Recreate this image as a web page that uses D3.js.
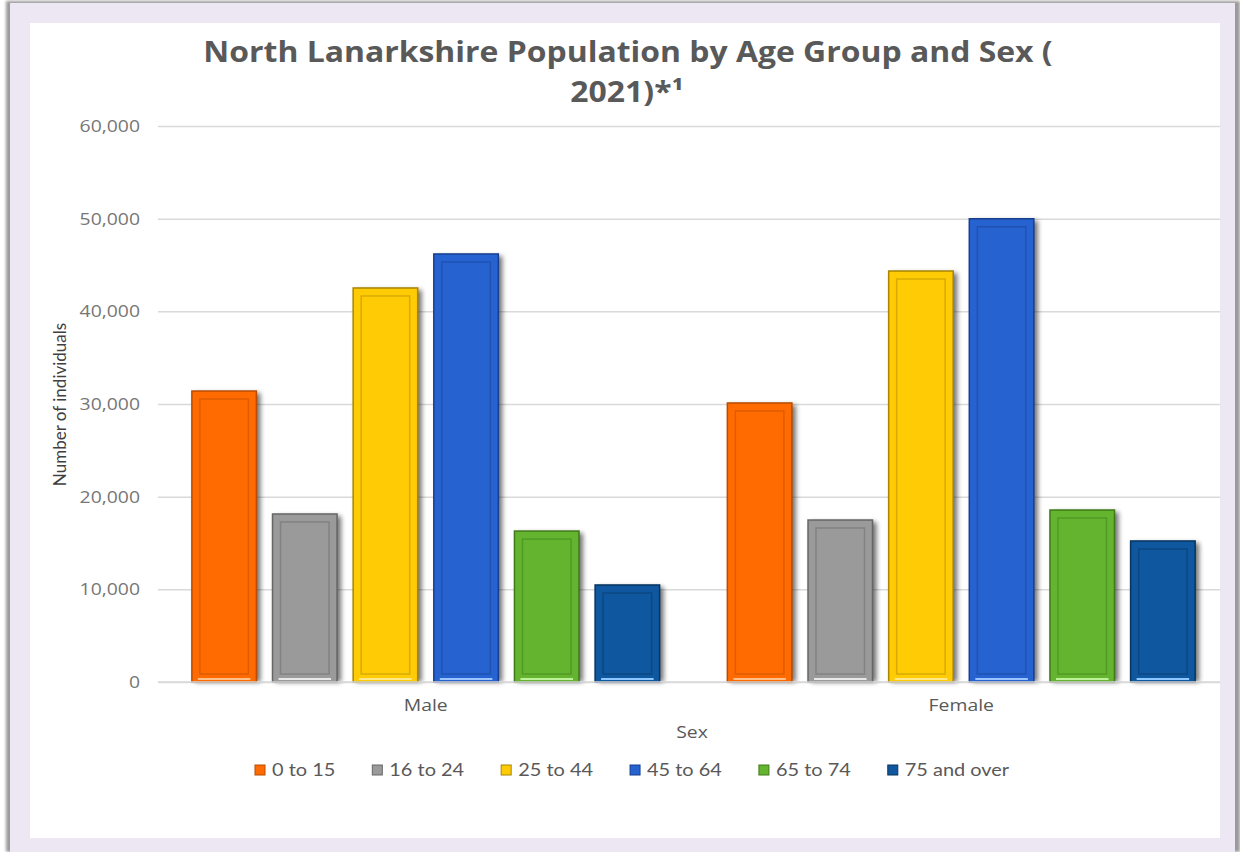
<!DOCTYPE html>
<html><head><meta charset="utf-8">
<script src="https://cdn.jsdelivr.net/npm/d3@7"></script>
<style>html,body{margin:0;padding:0;background:#fff;overflow:hidden}</style>
</head><body>
<svg id="c" width="1240" height="852"></svg>
<script>
const sexes = ["Male", "Female"];
const ageGroups = ["0 to 15", "16 to 24", "25 to 44", "45 to 64", "65 to 74", "75 and over"];
const maleValues = [31400, 18130, 42520, 46190, 16290, 10470];
const femaleValues = [30110, 17480, 44350, 49990, 18560, 15220];
const yTicks = [0, 10000, 20000, 30000, 40000, 50000, 60000];
const fillColors = ["#FF6B00", "#9A9A9A", "#FFCB05", "#2763D0", "#64B42F", "#0F58A0"];
const edgeColors = ["#B84C00", "#666666", "#A88600", "#173F8E", "#3F7A1A", "#08345F"];
const hiColors = ["#FFC08A", "#E8E8E8", "#FFE98A", "#9CC4FF", "#BDF29A", "#8CC8FF"];

(function(){
const SX = 1.14; // horizontal stretch of text seen in the reference
const seriesBySex = {Male: maleValues, Female: femaleValues};
const svg = d3.select("#c");
const defs = svg.append("defs");
const sh = defs.append("filter").attr("id","sh").attr("x","-20%").attr("y","-20%").attr("width","150%").attr("height","140%");
sh.append("feGaussianBlur").attr("stdDeviation", 2.5);
const fs = defs.append("filter").attr("id","fs").attr("x","-5%").attr("y","-5%").attr("width","110%").attr("height","110%");
fs.append("feGaussianBlur").attr("stdDeviation", 1.5);

function sText(parent, x, y, str, anchor){
  const g = parent.append("g").attr("transform",`translate(${x},${y}) scale(${SX},1)`);
  return g.append("text").attr("text-anchor", anchor || "start").text(str);
}

// frame
svg.append("rect").attr("x",6).attr("y",1).attr("width",1234).attr("height",851).attr("fill","#9a9a9a").attr("filter","url(#fs)");
svg.append("rect").attr("x",10).attr("y",3).attr("width",1225).attr("height",849).attr("fill","#EDE6F3");
svg.append("rect").attr("x",30).attr("y",23).attr("width",1190).attr("height",815).attr("fill","#ffffff");

const pL = 158, pR = 1220, pT = 126, pB = 682;
const y = d3.scaleLinear().domain([0, 60000]).range([pB, pT]);
const x0 = d3.scaleBand().domain(sexes).range([pL, 1229]).padding(0);
const x1 = d3.scaleBand().domain(ageGroups).range([0, x0.bandwidth()]).paddingInner(0.2).paddingOuter(0.42);

// gridlines + y labels
const yAxis = d3.axisLeft(y).tickValues(yTicks).tickSize(-(pR-pL)).tickFormat(d3.format(","));
const ga = svg.append("g").attr("transform",`translate(${pL},0)`).call(yAxis);
ga.select(".domain").remove();
ga.selectAll(".tick line").attr("stroke","#d9d9d9").attr("stroke-width",1.5);
ga.selectAll(".tick text").attr("x",-18/SX).attr("transform",`scale(${SX},1)`).attr("fill","#767676")
  .attr("font-family","'Open Sans', sans-serif").attr("font-size",17);

// bars
const groups = svg.append("g").selectAll("g").data(sexes).join("g")
  .attr("transform", d => `translate(${x0(d)},0)`);
groups.each(function(sex){
  const g = d3.select(this);
  const vals = seriesBySex[sex];
  ageGroups.forEach((a,i)=>{
    const bx = x1(a), bw = x1.bandwidth(), by = y(vals[i]), bh = pB - y(vals[i]);
    g.append("rect").attr("x",bx+3).attr("y",by+2).attr("width",bw+1).attr("height",bh-2)
      .attr("fill","#000").attr("opacity",0.55).attr("filter","url(#sh)");
    g.append("rect").attr("x",bx).attr("y",by).attr("width",bw).attr("height",bh)
      .attr("fill",fillColors[i]).attr("stroke",edgeColors[i]).attr("stroke-width",1.5);
    g.append("rect").attr("x",bx+8).attr("y",by+8).attr("width",bw-16).attr("height",bh-16)
      .attr("fill","none").attr("stroke",edgeColors[i]).attr("stroke-opacity",0.45).attr("stroke-width",1.5);
    g.append("line").attr("x1",bx+6).attr("x2",bx+bw-6).attr("y1",pB-3).attr("y2",pB-3)
      .attr("stroke",hiColors[i]).attr("stroke-width",2);
  });
});
svg.append("line").attr("x1",pL).attr("x2",pR).attr("y1",pB).attr("y2",pB).attr("stroke","#d9d9d9").attr("stroke-width",1.5);

// x labels
const xAxis = d3.axisBottom(x0).tickSize(0).tickPadding(0);
const gx = svg.append("g").attr("transform",`translate(0,711)`).call(xAxis);
gx.select(".domain").remove();
gx.selectAll(".tick text").attr("transform",`scale(${SX},1)`).attr("fill","#595959")
  .attr("font-family","'Open Sans', sans-serif").attr("font-size",17).attr("dy",0).attr("y",0);

// axis titles
sText(svg, 692, 738, "Sex", "middle").attr("fill","#595959")
  .attr("font-family","'Open Sans', sans-serif").attr("font-size",17);
svg.append("text").attr("transform","translate(66,404.5) rotate(-90)").attr("text-anchor","middle").attr("fill","#404040")
  .attr("font-family","Lato, sans-serif").attr("font-size",17).text("Number of individuals");

// title
sText(svg, 628, 62, "North Lanarkshire Population by Age Group and Sex (", "middle")
  .attr("fill","#595959").attr("font-family","'Open Sans', sans-serif").attr("font-weight","bold").attr("font-size",28);
sText(svg, 627, 102, "2021)*¹", "middle")
  .attr("fill","#595959").attr("font-family","'Open Sans', sans-serif").attr("font-weight","bold").attr("font-size",28);

// legend
const lg = svg.append("g");
let lx = 255;
ageGroups.forEach((a,i)=>{
  lg.append("rect").attr("x",lx).attr("y",765).attr("width",10).attr("height",10)
    .attr("fill",fillColors[i]).attr("stroke",edgeColors[i]).attr("stroke-width",1);
  const t = sText(lg, lx+17, 776, a).attr("fill","#595959")
    .attr("font-family","Lato, sans-serif").attr("font-size",17.5);
  const w = t.node().getComputedTextLength()*SX;
  lx += 17 + w + 37;
});
})();
</script>
</body></html>
